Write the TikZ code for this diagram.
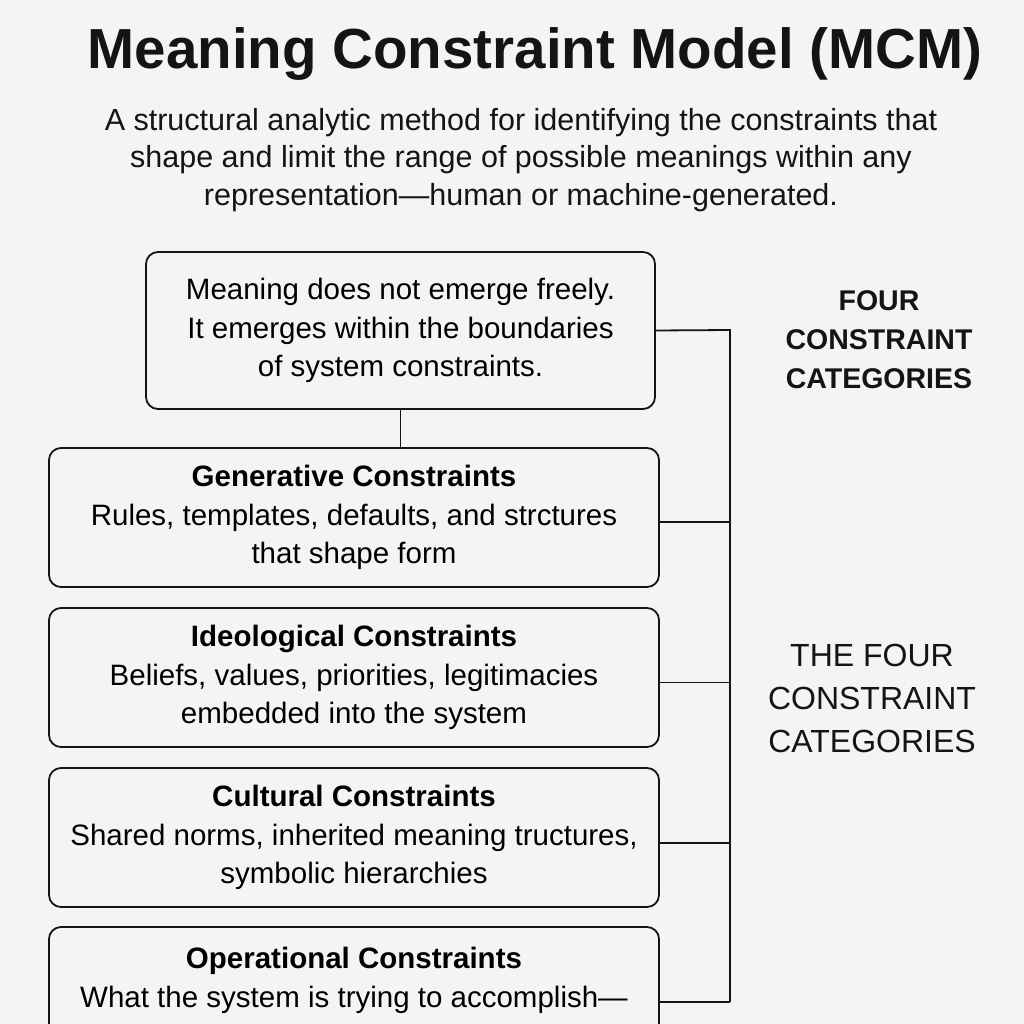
\documentclass[tikz,border=0pt]{standalone}
\usepackage{fontspec}
\setmainfont{Liberation Sans}
\usepackage{tikz}
\usetikzlibrary{positioning}

\definecolor{pagebg}{HTML}{F4F4F4}
\definecolor{inkline}{HTML}{141414}

\tikzset{
  cbox/.style={draw=inkline, line width=1.8pt, rounded corners=12pt,
    minimum width=610pt, minimum height=139pt, align=center,
    font=\fontsize{29.5}{38.5}\selectfont, inner sep=0pt},
  link/.style={draw=inkline, line width=1.8pt},
  sidelabel/.style={align=center, text=inkline}
}

\begin{document}
\begin{tikzpicture}[x=1pt,y=-1pt]
\fill[pagebg] (0,0) rectangle (1024,1024);
\clip (0,0) rectangle (1024,1024);
\useasboundingbox (0,0) rectangle (1024,1024);

% heading
\node[font=\bfseries\fontsize{56.5}{60}\selectfont, text=inkline] (title) at (535,54)
  {Meaning Constraint Model (MCM)};
\node[align=center, font=\fontsize{30.5}{37.5}\selectfont, text=inkline] (subtitle) at (521,160)
  {A structural analytic method for identifying the constraints that\\
   shape and limit the range of possible meanings within any\\
   representation---human or machine-generated.};

% boxes
\node[cbox, minimum width=509pt, minimum height=157pt] (intro) at (400.5,330.5)
  {Meaning does not emerge freely.\\
   It emerges within the boundaries\\
   of system constraints.};
\node[cbox] (gen) at (354,517.5)
  {\textbf{Generative Constraints}\\
   Rules, templates, defaults, and strctures\\
   that shape form};
\node[cbox] (ideo) at (354,677.5)
  {\textbf{Ideological Constraints}\\
   Beliefs, values, priorities, legitimacies\\
   embedded into the system};
\node[cbox] (cult) at (354,837.5)
  {\textbf{Cultural Constraints}\\
   Shared norms, inherited meaning tructures,\\
   symbolic hierarchies};
\node[cbox] (oper) at (354,996.5)
  {\textbf{Operational Constraints}\\
   What the system is trying to accomplish---\\
   \mbox{}};

% side labels
\node[sidelabel, font=\bfseries\fontsize{28.5}{39}\selectfont] (fourcat) at (879,340)
  {FOUR\\ CONSTRAINT\\ CATEGORIES};
\node[sidelabel, font=\fontsize{32}{43}\selectfont] (thefour) at (872,698)
  {THE FOUR\\ CONSTRAINT\\ CATEGORIES};

% connectors
\coordinate (bustop) at (730,330);
\coordinate (busbot) at (730,1002);
\draw[link] (intro.south) -- (intro.south |- gen.north);
\draw[link] (intro.east) -- (bustop) -- (busbot);
\draw[link] (gen.east) ++(0,4.5) -- ++(71,0);
\draw[link] (ideo.east) ++(0,5) -- ++(71,0);
\draw[link] (cult.east) ++(0,5.5) -- ++(71,0);
\draw[link] (oper.east) ++(0,5.5) -- (busbot);
\end{tikzpicture}
\end{document}
